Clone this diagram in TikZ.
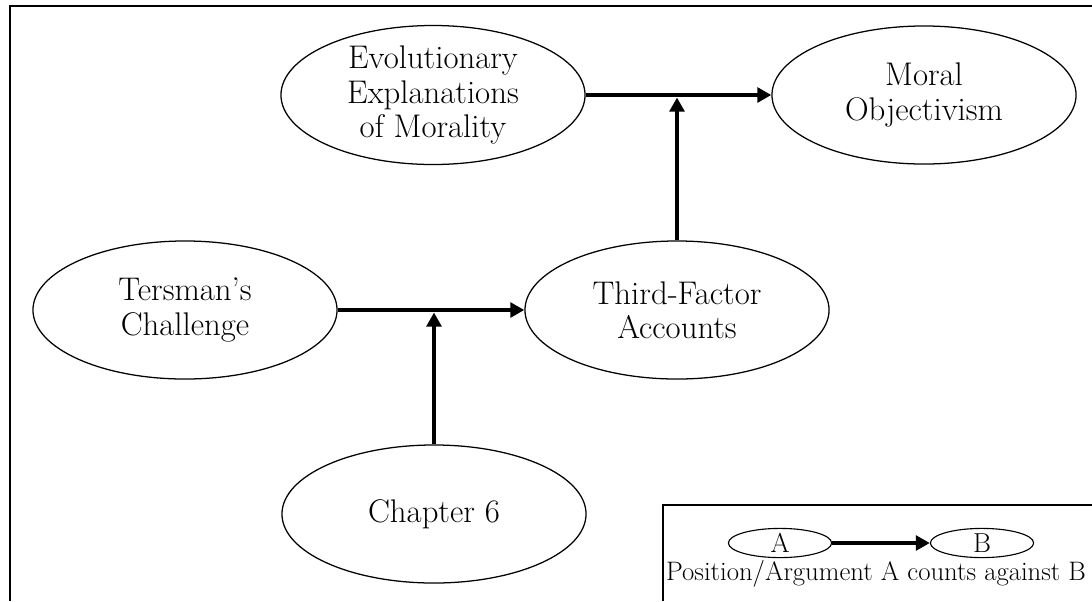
\documentclass[tikz,border=0pt]{standalone}
\usepackage{tikz}
\usetikzlibrary{shapes,arrows.meta}
\tikzstyle{against} = [draw, -{Triangle[length=10pt,width=10.5pt]}, line width=3.5pt]
\tikzstyle{position} = [draw, ellipse, line width=0.9pt, minimum width=7.6cm, minimum height=3.45cm, inner sep=0pt, align=center, font=\fontsize{23.3}{24.5}\selectfont]
\tikzstyle{keypos} = [draw, ellipse, line width=0.8pt, minimum width=2.58cm, minimum height=0.73cm, inner sep=0pt, font=\fontsize{19.5}{20}\selectfont]

\begin{document}
\begin{tikzpicture}[x=0.025cm, y=-0.025cm]
      \useasboundingbox (0,0) rectangle (1092,601);

      % frame
      \draw [line width=1.4pt] (1092,6) -- (10,6) -- (10,601);

      \node[position] (evo) at (433,95) {Evolutionary\\Explanations\\of Morality};
      \node[position] (moral) at (924,95) {Moral\\Objectivism};
      \node[position] (tersman) at (185,310) {Tersman’s\\Challenge};
      \node[position] (third) at (677,310) {Third-Factor\\Accounts};
      \node[position] (chap) at (434,514) {Chapter 6};

      \draw [against] (evo) -- (moral);
      \draw [against] (tersman) -- (third);

      \coordinate (hit1) at (third.north |- evo.east);
      \coordinate (hit2) at (chap.north |- tersman.east);
      \draw [against, shorten >=1.8pt] (third.north) -- (hit1);
      \draw [against, shorten >=1.8pt] (chap.north) -- (hit2);

      % legend
      \draw [line width=1.4pt] (1092,505) -- (663,505) -- (663,601);
      \node[keypos] (keyA) at (780,543) {A};
      \node[keypos] (keyB) at (982,543) {B};
      \draw [against, line width=3pt] (keyA) -- (keyB);
      \node[font=\fontsize{19}{20}\selectfont] (keytext) at (876,574) {Position/Argument A counts against B};
\end{tikzpicture}
\end{document}
